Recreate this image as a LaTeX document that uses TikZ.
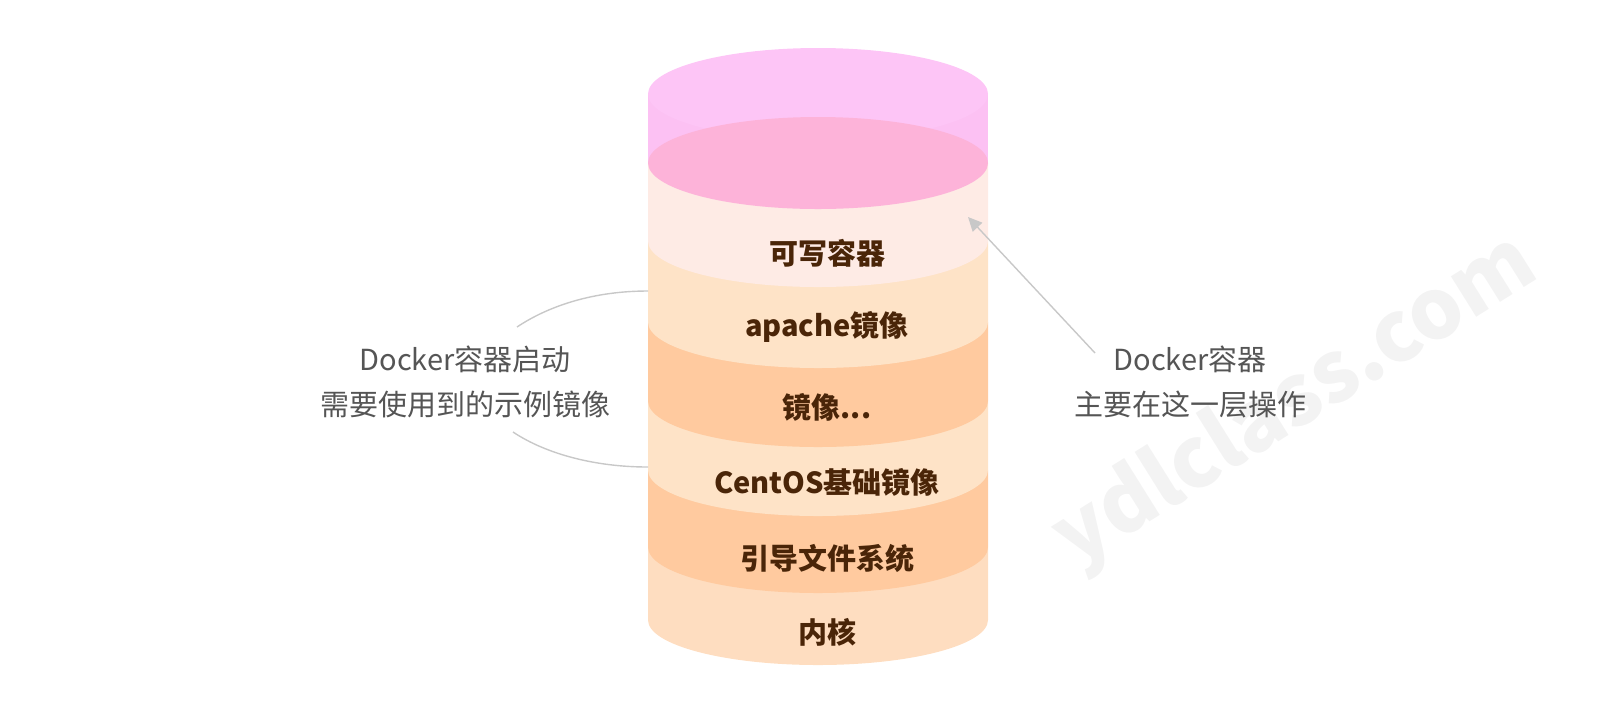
\documentclass[tikz,border=0pt]{standalone}
\usepackage{fontspec}
\setmainfont{Noto Sans CJK SC}
\usetikzlibrary{arrows.meta}
\definecolor{topPink}{RGB}{253,197,246}
\definecolor{bodyPink}{RGB}{252,193,243}
\definecolor{lidPink}{RGB}{253,179,217}
\definecolor{writeFill}{RGB}{254,235,229}
\definecolor{lightPeach}{RGB}{254,227,199}
\definecolor{darkPeach}{RGB}{255,202,159}
\definecolor{kernelFill}{RGB}{254,221,192}
\definecolor{labelBrown}{RGB}{74,37,8}
\definecolor{noteGrey}{RGB}{85,85,85}
\definecolor{lineGrey}{RGB}{200,200,200}
\definecolor{markGrey}{RGB}{243,243,243}
\tikzset{
  layertext/.style={font=\fontsize{14.5}{17}\selectfont\bfseries, text=labelBrown, inner sep=0pt},
  notetext/.style={font=\fontsize{14.5}{22.5}\selectfont, text=noteGrey, align=center, inner sep=0pt},
  guide/.style={draw=lineGrey, line width=0.7pt},
  pointer/.style={guide, -{Triangle[length=7pt, width=6.5pt]}}
}
\begin{document}
\begin{tikzpicture}[x=0.5pt,y=0.5pt,yscale=-1,xscale=1]
\useasboundingbox (0,0) rectangle (1620,714);

% Watermark
\node (mark) [rotate=32, text=markGrey, inner sep=0pt, font=\fontsize{42}{45}\selectfont\bfseries] at (1296,402) {ydlclass.com};

%Shape: Layer kernel
\fill [kernelFill] (648,547) -- (648,620) arc [start angle=180, end angle=0, x radius=170, y radius=45] -- (988,547) -- cycle ;
%Shape: Layer boot fs
\fill [darkPeach] (648,470) -- (648,547) arc [start angle=180, end angle=0, x radius=170, y radius=46] -- (988,470) -- cycle ;
%Shape: Layer centos
\fill [lightPeach] (648,401) -- (648,470) arc [start angle=180, end angle=0, x radius=170, y radius=46] -- (988,401) -- cycle ;
%Shape: Layer mirror
\fill [darkPeach] (648,322) -- (648,401) arc [start angle=180, end angle=0, x radius=170, y radius=46] -- (988,322) -- cycle ;
%Shape: Layer apache
\fill [lightPeach] (648,241) -- (648,322) arc [start angle=180, end angle=0, x radius=170, y radius=46] -- (988,241) -- cycle ;
%Shape: Layer writable
\fill [writeFill] (648,163) -- (648,241) arc [start angle=180, end angle=0, x radius=170, y radius=46] -- (988,163) -- cycle ;
%Shape: Container top
\fill [bodyPink] (648,94) rectangle (988,163) ;
\fill [topPink] (818,94) ellipse [x radius=170, y radius=46] ;
\fill [lidPink] (818,163) ellipse [x radius=170, y radius=46] ;

% Text Node
\node (lblWrite) [layertext] at (827,253) {可写容器};
% Text Node
\node (lblApache) [layertext] at (827,327) {apache镜像};
% Text Node
\node (lblMirror) [layertext] at (827,407) {镜像...};
% Text Node
\node (lblCentos) [layertext] at (827,482) {CentOS基础镜像};
% Text Node
\node (lblBoot) [layertext] at (827,558) {引导文件系统};
% Text Node
\node (lblKernel) [layertext] at (827,632) {内核};

% Text Node
\node (noteLeft) [notetext] at (465,382) {Docker容器启动\\需要使用到的示例镜像};
% Text Node
\node (noteRight) [notetext] at (1190,382) {Docker容器\\主要在这一层操作};

\coordinate (braceUpA) at (517,327);
\coordinate (braceUpB) at (648,291);
\coordinate (braceLoA) at (513,432);
\coordinate (braceLoB) at (648,467);
\coordinate (arrowTail) at (1095,353);
\coordinate (arrowTip) at (968,217);

%Curve Lines
\draw [guide] (braceUpA) .. controls (550,305) and (595,291) .. (braceUpB) ;
\draw [guide] (braceLoA) .. controls (546,454) and (595,467) .. (braceLoB) ;
%Straight Lines
\draw [pointer] (arrowTail) -- (arrowTip) ;

\end{tikzpicture}
\end{document}
